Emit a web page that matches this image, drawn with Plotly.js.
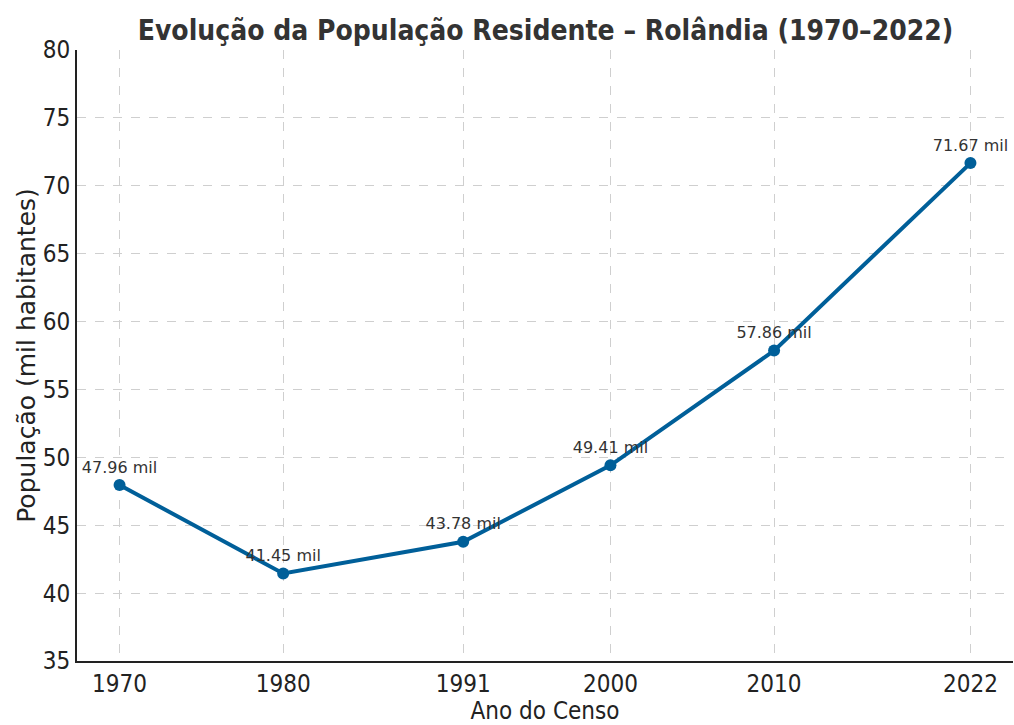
<!DOCTYPE html>
<html>
<head>
<meta charset="utf-8">
<script src="https://cdn.plot.ly/plotly-3.0.1.min.js"></script>
<style>html,body{margin:0;padding:0;background:#fff;}#chart{width:1014px;height:725px;}</style>
</head>
<body>
<div id="chart"></div>
<script>
const years = [1970, 1980, 1991, 2000, 2010, 2022];
const population = [47.96, 41.45, 43.78, 49.41, 57.86, 71.67];
const labels = population.map(v => v.toFixed(2) + ' mil');
const yTicks = [35, 40, 45, 50, 55, 60, 65, 70, 75, 80];

const trace = {
  x: years,
  y: population,
  mode: 'lines+markers+text',
  text: labels,
  textposition: 'top center',
  textfont: {family: 'DejaVu Sans', size: 16, color: '#333333'},
  line: {color: '#005f99', width: 4},
  marker: {color: '#005f99', size: 12},
  cliponaxis: false,
  hoverinfo: 'skip'
};

const layout = {
  width: 1014, height: 725,
  margin: {l: 77, r: 1, t: 50, b: 64},
  paper_bgcolor: '#ffffff', plot_bgcolor: '#ffffff',
  showlegend: false,
  title: {
    text: '<b>Evolução da População Residente – Rolândia (1970–2022)</b>',
    font: {family: 'DejaVu Sans Condensed, DejaVu Sans', size: 28, color: '#333333'},
    x: 0.538, xanchor: 'center', y: 0.958, yanchor: 'middle', yref: 'container'
  },
  xaxis: {
    range: [1967.4, 2024.6],
    tickvals: years,
    ticktext: years.map(String),
    tickfont: {family: 'DejaVu Sans Condensed, DejaVu Sans', size: 24, color: '#222222'},
    showgrid: true, gridcolor: '#cfcfcf', griddash: 'dash', gridwidth: 1,
    showline: true, linecolor: '#222222', linewidth: 2, mirror: false,
    zeroline: false, ticks: '', ticklabelstandoff: 0,
    title: {text: 'Ano do Censo', font: {family: 'DejaVu Sans Condensed, DejaVu Sans', size: 24, color: '#222222'}, standoff: 4}
  },
  yaxis: {
    range: [35, 80],
    tickvals: yTicks,
    tickfont: {family: 'DejaVu Sans Condensed, DejaVu Sans', size: 24, color: '#222222'},
    showgrid: true, gridcolor: '#cfcfcf', griddash: 'dash', gridwidth: 1,
    showline: true, linecolor: '#222222', linewidth: 2, mirror: false,
    zeroline: false, ticks: '', ticklabelstandoff: 0,
    title: {text: 'População (mil habitantes)', font: {family: 'DejaVu Sans', size: 25, color: '#222222'}, standoff: 0}
  }
};

Plotly.newPlot('chart', [trace], layout, {displayModeBar: false, staticPlot: true});
</script>
</body>
</html>
